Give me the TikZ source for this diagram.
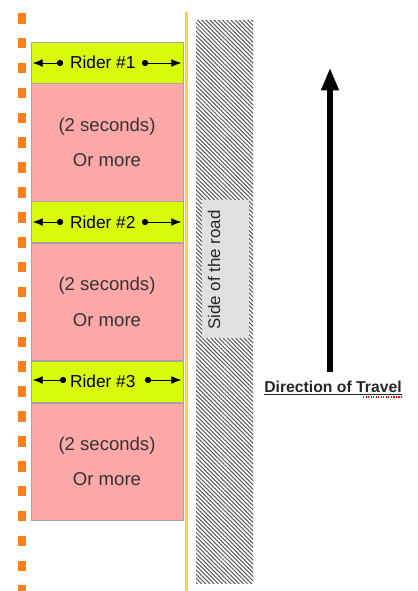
\documentclass[tikz,border=0pt]{standalone}
\usepackage{fontspec}
\setmainfont{Liberation Sans}
\usetikzlibrary{positioning,shapes,patterns.meta}
\usetikzlibrary{arrows.meta}
\usepackage{xcolor}
\definecolor{lime}{RGB}{218,250,12}
\definecolor{salmon}{RGB}{255,168,168}
\definecolor{edgegray}{RGB}{165,165,165}
\definecolor{cone}{RGB}{250,128,30}
\definecolor{kerb}{RGB}{255,208,70}

\begin{document}
\begin{tikzpicture}
[x=0.025cm, y=-0.025cm, node distance=0pt,
% The rider style is used to draw the boxes with the riders' names
rider/.style={rectangle, draw=edgegray, fill=lime, inner sep=0pt, minimum width=3.8cm, minimum height=1.03cm, font=\fontsize{12.3}{14}\selectfont, execute at end node={\hspace{6pt}}},
% The gap style is used to draw the space between two riders
gap/.style={rectangle, draw=edgegray, fill=salmon, inner sep=0pt, minimum width=3.8cm, minimum height=2.93cm, align=center, text=black!80, font=\fontsize{13.2}{25}\selectfont},
dot/.style={circle, fill=black, inner sep=0pt, minimum size=4.5pt},
spread/.style={-{Latex[length=7pt,width=5.5pt]}, thin, shorten >=1.5pt},
travel/.style={-{Triangle[length=16pt,width=12pt]}, line width=3.6pt}
]
\useasboundingbox (0,0) rectangle (417,591);

% Draw the edge of the lane and the side of the road
\draw[cone, line width=5.5pt, dash pattern=on 7.5pt off 10.2pt] (22,13) -- (22,591);
\draw[kerb, line width=2.2pt] (186.5,12) -- (186.5,591);
\fill[pattern={Lines[angle=-45, distance=2.1pt, line width=0.75pt]}, pattern color=black!65] (196,21) rectangle (253,583);
\node[rectangle, fill=black!12, inner sep=0pt, minimum width=1.18cm, minimum height=3.45cm] (roadbox) at (225.5,269) {};
\node[rotate=90, font=\fontsize{12}{14}\selectfont, text=black!85] (roadlabel) at (214,270) {Side of the road};

% Draw riders and the gaps between them
\node[rider] (rider1) at (107,62.5) {Rider \#1};
\node[gap, below=of rider1] (gap1) {(2 seconds)\\Or more};
\node[rider, below=of gap1] (rider2) {Rider \#2};
\node[gap, below=of rider2] (gap2) {(2 seconds)\\Or more};
\node[rider, below=of gap2] (rider3) {Rider \#3};
\node[gap, below=of rider3] (gap3) {(2 seconds)\\Or more};

\node[dot] (dot1l) at (60,63) {};
\node[dot] (dot1r) at (145,63) {};
\draw[spread] (dot1l) -- (rider1.west |- dot1l);
\draw[spread] (dot1r) -- (rider1.east |- dot1r);
\node[dot] (dot2l) at (60,222) {};
\node[dot] (dot2r) at (145,222) {};
\draw[spread] (dot2l) -- (rider2.west |- dot2l);
\draw[spread] (dot2r) -- (rider2.east |- dot2r);
\node[dot] (dot3l) at (63,380) {};
\node[dot] (dot3r) at (148,380) {};
\draw[spread] (dot3l) -- (rider3.west |- dot3l);
\draw[spread] (dot3r) -- (rider3.east |- dot3r);

% Draw the direction of travel
\coordinate (tail) at (330,372);
\coordinate (head) at (330,68);
\draw[travel] (tail) -- (head);
\node[font=\bfseries\fontsize{11.2}{13}\selectfont, text=black!85] (direction) at (333,388) {\underline{Direction of Travel}};
\draw[red, densely dotted, line width=0.8pt] (363,397) -- (402,397);
\end{tikzpicture}
\end{document}
